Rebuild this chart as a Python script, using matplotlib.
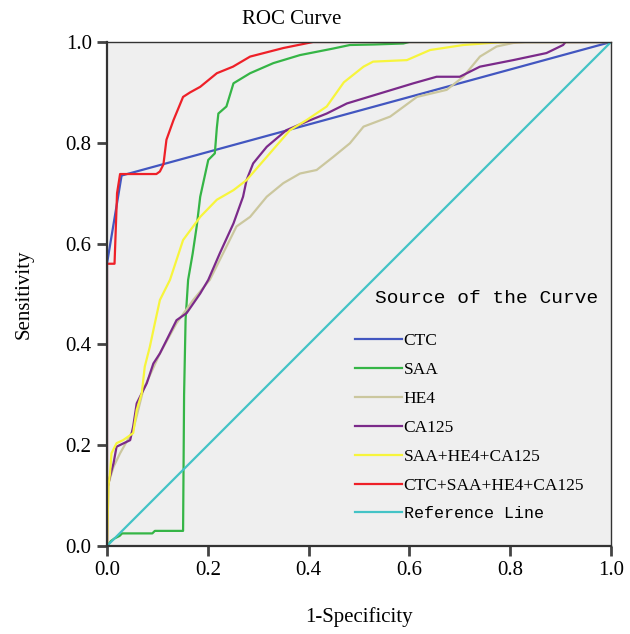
import numpy as np
import matplotlib.pyplot as plt

# ROC curve points (1-specificity, sensitivity)
ctc_x = [0.0, 0.0, 0.029, 1.0]
ctc_y = [0.0, 0.56, 0.735, 1.0]

saa_x = [0.0, 0.008, 0.015, 0.025, 0.03, 0.09, 0.095, 0.151, 0.153, 0.156, 0.161, 0.17,
         0.178, 0.185, 0.201, 0.214, 0.218, 0.221, 0.237, 0.251, 0.284, 0.33, 0.383,
         0.449, 0.482, 0.53, 0.588, 0.6, 1.0]
saa_y = [0.0, 0.01, 0.015, 0.02, 0.025, 0.025, 0.03, 0.03, 0.3, 0.45, 0.528, 0.58,
         0.634, 0.693, 0.766, 0.779, 0.83, 0.858, 0.872, 0.918, 0.938, 0.958, 0.974,
         0.987, 0.994, 0.995, 0.997, 1.0, 1.0]

he4_x = [0.0, 0.003, 0.013, 0.026, 0.052, 0.072, 0.105, 0.138, 0.171, 0.204, 0.237,
         0.257, 0.284, 0.317, 0.35, 0.383, 0.416, 0.449, 0.482, 0.509, 0.562, 0.615,
         0.674, 0.707, 0.74, 0.773, 0.806, 0.83, 1.0]
he4_y = [0.0, 0.124, 0.157, 0.184, 0.23, 0.31, 0.382, 0.442, 0.488, 0.528, 0.594,
         0.634, 0.653, 0.693, 0.72, 0.739, 0.746, 0.772, 0.799, 0.832, 0.852, 0.891,
         0.905, 0.931, 0.971, 0.991, 0.998, 1.0, 1.0]

ca125_x = [0.0, 0.0, 0.006, 0.013, 0.019, 0.046, 0.052, 0.059, 0.079, 0.092, 0.105,
           0.138, 0.158, 0.185, 0.201, 0.224, 0.251, 0.27, 0.277, 0.29, 0.317, 0.356,
           0.396, 0.436, 0.476, 0.542, 0.608, 0.654, 0.7, 0.74, 0.806, 0.872, 0.905,
           0.91, 1.0]
ca125_y = [0.0, 0.11, 0.138, 0.164, 0.197, 0.21, 0.237, 0.283, 0.323, 0.362, 0.382,
           0.448, 0.462, 0.501, 0.528, 0.581, 0.64, 0.693, 0.726, 0.759, 0.792, 0.825,
           0.842, 0.858, 0.878, 0.898, 0.918, 0.931, 0.931, 0.951, 0.964, 0.978, 0.994,
           1.0, 1.0]

combo3_x = [0.0, 0.003, 0.006, 0.009, 0.019, 0.032, 0.052, 0.059, 0.069, 0.075, 0.085,
            0.095, 0.105, 0.125, 0.151, 0.185, 0.218, 0.251, 0.277, 0.317, 0.363, 0.396,
            0.436, 0.47, 0.509, 0.528, 0.595, 0.641, 0.707, 0.773, 0.8, 1.0]
combo3_y = [0.0, 0.12, 0.144, 0.184, 0.204, 0.21, 0.224, 0.27, 0.303, 0.356, 0.395,
            0.442, 0.488, 0.528, 0.607, 0.653, 0.687, 0.706, 0.726, 0.772, 0.825, 0.845,
            0.872, 0.92, 0.951, 0.961, 0.964, 0.984, 0.994, 0.999, 1.0, 1.0]

combo4_x = [0.0, 0.0, 0.015, 0.02, 0.026, 0.098, 0.105, 0.112, 0.118, 0.132, 0.151,
            0.165, 0.185, 0.218, 0.25, 0.284, 0.35, 0.409, 1.0]
combo4_y = [0.0, 0.56, 0.56, 0.7, 0.738, 0.738, 0.743, 0.757, 0.806, 0.845, 0.891,
            0.9, 0.911, 0.938, 0.951, 0.971, 0.988, 1.0, 1.0]

ref_x = [0.0, 1.0]
ref_y = [0.0, 1.0]

labels = ["CTC", "SAA", "HE4", "CA125", "SAA+HE4+CA125", "CTC+SAA+HE4+CA125", "Reference Line"]
colors = ["#4256c0", "#35b546", "#cbc79e", "#7b2a8a", "#f7f53c", "#ee2028", "#43c3c6"]

serif = ["Liberation Serif", "DejaVu Serif"]
mono = ["Liberation Mono", "DejaVu Sans Mono"]

fig = plt.figure(figsize=(6.3, 6.34), dpi=100)
ax = fig.add_axes([0.1698, 0.1388, 0.8, 0.795])
ax.set_facecolor("#efefef")

series = [(ctc_x, ctc_y), (saa_x, saa_y), (he4_x, he4_y), (ca125_x, ca125_y),
          (combo3_x, combo3_y), (combo4_x, combo4_y), (ref_x, ref_y)]
lines = []
for (xs, ys), lab, c in zip(series, labels, colors):
    ln, = ax.plot(xs, ys, color=c, lw=1.6, label=lab)
    lines.append(ln)

ax.set_xlim(0, 1)
ax.set_ylim(0, 1)
ticks = [0.0, 0.2, 0.4, 0.6, 0.8, 1.0]
ax.set_xticks(ticks)
ax.set_yticks(ticks)
ax.set_xticklabels([f"{t:.1f}" for t in ticks], family=serif, fontsize=15)
ax.set_yticklabels([f"{t:.1f}" for t in ticks], family=serif, fontsize=15)
ax.tick_params(direction="out", length=7, width=2, color="#444444", pad=4)

for s in ax.spines.values():
    s.set_color("#333333")
    s.set_linewidth(1.0)
ax.spines["left"].set_linewidth(1.6)
ax.spines["bottom"].set_linewidth(1.6)

ax.set_title("ROC Curve", family=serif, fontsize=15, pad=13, x=0.367)
ax.set_xlabel("1-Specificity", family=serif, fontsize=15, labelpad=19)
ax.set_ylabel("Sensitivity", family=serif, fontsize=15, labelpad=23)

# legend title drawn separately so it can sit where the original has it
ax.text(0.753, 0.492, "Source of the Curve", transform=ax.transAxes,
        ha="center", va="center", family=mono, fontsize=14)
leg = ax.legend(handles=lines, loc="upper left", bbox_to_anchor=(0.492, 0.422),
                frameon=False, borderpad=0, borderaxespad=0,
                handlelength=2.7, handletextpad=0.1,
                labelspacing=0.73, prop={"family": serif, "size": 12.5})
for txt in leg.get_texts():
    if txt.get_text() == "Reference Line":
        txt.set_fontfamily(mono)
        txt.set_fontsize(12)

fig.savefig("out.png", dpi=100)
